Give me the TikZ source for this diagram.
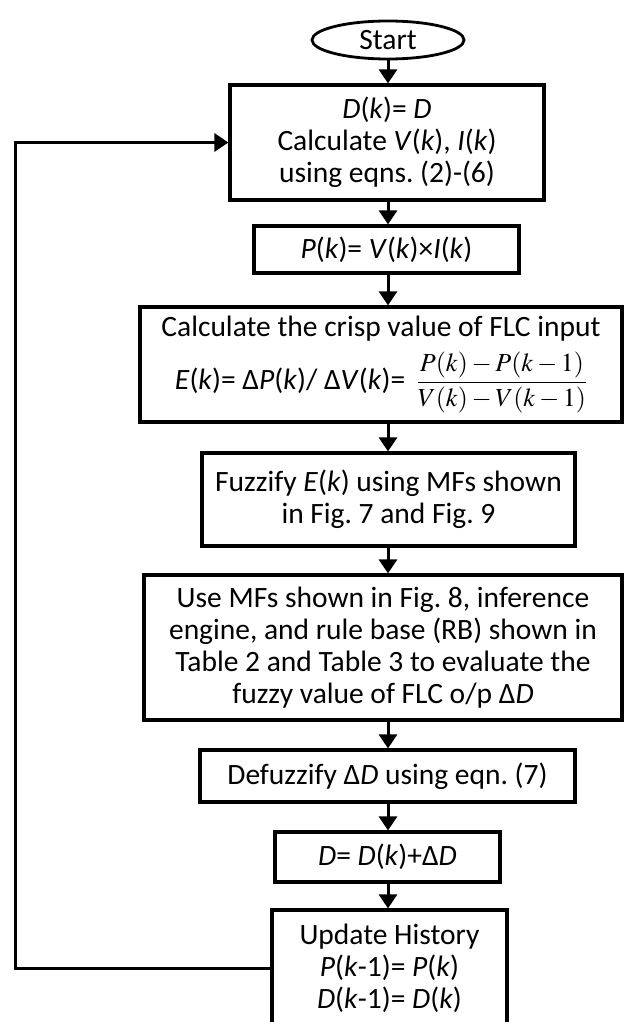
\documentclass[tikz,border=0pt]{standalone}
\usepackage{mathptmx}
\usepackage{amsmath}
\usepackage[no-math]{fontspec}
\setmainfont{Carlito}
\usetikzlibrary{arrows.meta,shapes.geometric}
\newcommand{\iv}[1]{\textit{#1}}
\frenchspacing
\tikzset{
  boxstyle/.style={draw, line width=3.2pt, inner sep=0pt, align=center},
  conn/.style={line width=3pt, -{Triangle[width=18pt,length=14pt]}},
  txt/.style={font=\fontsize{29.5}{32}\selectfont}
}
\begin{document}
\begin{tikzpicture}[x=1pt,y=-1pt]
\useasboundingbox (0,0) rectangle (625,1022);
\fill[white] (0,0) rectangle (625,1022);
\clip (0,0) rectangle (625,1022);
\coordinate (ax) at (388,0);
\coordinate (lc) at (15,968);
\node[ellipse, draw, line width=2.8pt, inner sep=0pt, minimum width=152pt, minimum height=38pt, txt] (st) at (388,40) {Start};
\node[boxstyle, txt, minimum width=314pt, minimum height=115pt] (b1) at (387,142.5)
  {\iv{D}(\iv{k})= \iv{D}\\ Calculate \iv{V}(\iv{k}), \iv{I}(\iv{k})\\ using eqns. (2)-(6)};
\node[boxstyle, txt, minimum width=265pt, minimum height=47pt] (b2) at (386.5,249.5)
  {\iv{P}(\iv{k})= \iv{V}(\iv{k})×\iv{I}(\iv{k})};
\node[boxstyle, txt, minimum width=482pt, minimum height=115pt] (b3) at (381,364.5)
  {Calculate the crisp value of FLC input\\[10pt] \iv{E}(\iv{k})= Δ\iv{P}(\iv{k})/ Δ\iv{V}(\iv{k})=\, {\fontsize{26}{30}\selectfont$\dfrac{P(k)-P(k-1)}{V(k)-V(k-1)}$}};
\node[boxstyle, txt, minimum width=373pt, minimum height=93pt] (b4) at (388.5,499.5)
  {Fuzzify \iv{E}(\iv{k}) using MFs shown\\ in Fig. 7 and Fig. 9};
\node[boxstyle, txt, minimum width=478pt, minimum height=145pt] (b5) at (383,647.5)
  {Use MFs shown in Fig. 8, inference\\ engine, and rule base (RB) shown in\\ Table 2 and Table 3 to evaluate the\\ fuzzy value of FLC o/p Δ\iv{D}};
\node[boxstyle, txt, minimum width=375pt, minimum height=52pt] (b6) at (387.5,776)
  {Defuzzify Δ\iv{D} using eqn. (7)};
\node[boxstyle, txt, minimum width=225pt, minimum height=50pt] (b7) at (387.5,857)
  {\iv{D}= \iv{D}(\iv{k})+Δ\iv{D}};
\node[boxstyle, txt, minimum width=235pt, minimum height=116pt] (upd) at (389.5,968)
  {Update History\\ \iv{P}(\iv{k}-1)= \iv{P}(\iv{k})\\ \iv{D}(\iv{k}-1)= \iv{D}(\iv{k})};
\draw[conn] (st.south -| ax) -- (b1.north -| ax);
\draw[conn] (b1.south -| ax) -- (b2.north -| ax);
\draw[conn] (b2.south -| ax) -- (b3.north -| ax);
\draw[conn] (b3.south -| ax) -- (b4.north -| ax);
\draw[conn] (b4.south -| ax) -- (b5.north -| ax);
\draw[conn] (b5.south -| ax) -- (b6.north -| ax);
\draw[conn] (b6.south -| ax) -- (b7.north -| ax);
\draw[conn] (b7.south -| ax) -- (upd.north -| ax);
\draw[conn] (upd.west) -- (lc) |- (b1.west);
\end{tikzpicture}
\end{document}
